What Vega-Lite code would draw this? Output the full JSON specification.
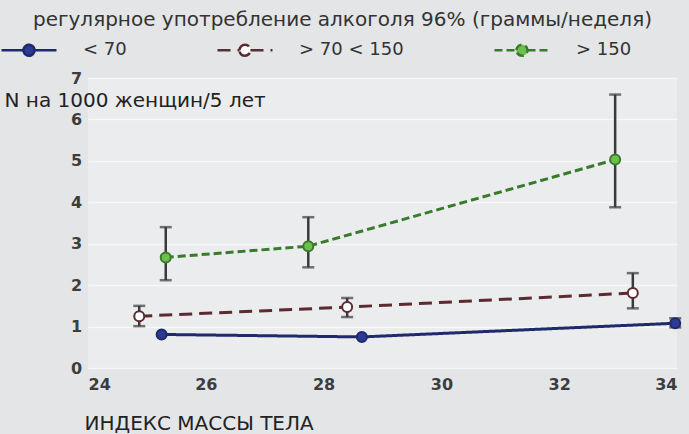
{
  "$schema": "https://vega.github.io/schema/vega-lite/v6.json",
  "autosize": "none",
  "width": 589,
  "height": 290,
  "padding": {"left": 88, "top": 78, "right": 12, "bottom": 66},
  "background": "#e3e5e7",
  "title": {
    "text": "регулярное употребление алкоголя 96% (граммы/неделя)",
    "anchor": "middle",
    "frame": "group",
    "dx": -40,
    "offset": -9,
    "font": "DejaVu Sans",
    "fontSize": 20,
    "fontWeight": "normal",
    "color": "#333333"
  },
  "data": {
    "values": [
      {"group": "< 70", "bmi": 25.25, "value": 0.81, "lo": null, "hi": null},
      {"group": "< 70", "bmi": 28.65, "value": 0.75, "lo": null, "hi": null},
      {"group": "< 70", "bmi": 33.97, "value": 1.08, "lo": 0.98, "hi": 1.2},
      {"group": "> 70 < 150", "bmi": 24.87, "value": 1.25, "lo": 1.01, "hi": 1.5},
      {"group": "> 70 < 150", "bmi": 28.4, "value": 1.47, "lo": 1.23, "hi": 1.69},
      {"group": "> 70 < 150", "bmi": 33.25, "value": 1.81, "lo": 1.44, "hi": 2.29},
      {"group": "> 150", "bmi": 25.32, "value": 2.67, "lo": 2.12, "hi": 3.4},
      {"group": "> 150", "bmi": 27.74, "value": 2.94, "lo": 2.43, "hi": 3.64},
      {"group": "> 150", "bmi": 32.95, "value": 5.03, "lo": 3.88, "hi": 6.6}
    ]
  },
  "config": {
    "view": {"fill": "#eaeced", "stroke": null},
    "axis": {
      "labelFont": "DejaVu Sans",
      "labelFontSize": 16,
      "labelFontWeight": "bold",
      "labelColor": "#3d3d3d",
      "titleFont": "DejaVu Sans",
      "titleFontSize": 20,
      "titleFontWeight": "normal",
      "titleColor": "#222222",
      "domain": false,
      "ticks": false
    },
    "legend": {
      "labelFont": "DejaVu Sans",
      "labelFontSize": 18,
      "labelColor": "#333333"
    }
  },
  "layer": [
    {
      "transform": [{"filter": "datum.lo != null"}],
      "mark": {"type": "errorbar", "ticks": {"size": 12}, "color": "#3a3a3a", "thickness": 2.5},
      "encoding": {
        "x": {"field": "bmi", "type": "quantitative", "title": "ИНДЕКС МАССЫ ТЕЛА"},
        "y": {"field": "lo", "type": "quantitative", "title": "N на 1000 женщин/5 лет"},
        "y2": {"field": "hi"}
      }
    },
    {
      "mark": {"type": "line", "strokeWidth": 3},
      "encoding": {
        "x": {
          "field": "bmi", "type": "quantitative",
          "title": "ИНДЕКС МАССЫ ТЕЛА",
          "scale": {"domain": [24, 34], "nice": false, "zero": false},
          "axis": {
            "values": [24, 26, 28, 30, 32, 34],
            "format": "d",
            "grid": false,
            "labelPadding": 8,
            "titleAnchor": "start",
            "titleAlign": "left",
            "titleX": -4,
            "titleY": 55,
            "titleBaseline": "middle"
          }
        },
        "y": {
          "field": "value", "type": "quantitative",
          "title": "N на 1000 женщин/5 лет",
          "scale": {"domain": [0, 7], "nice": false},
          "axis": {
            "values": [0, 1, 2, 3, 4, 5, 6, 7],
            "format": "d",
            "grid": true,
            "gridColor": "#f6f7f8",
            "gridWidth": 1.5,
            "labelPadding": 12,
            "labelAlign": "center",
            "titleAngle": 0,
            "titleAlign": "left",
            "titleBaseline": "middle",
            "titleX": -84,
            "titleY": 22
          }
        },
        "stroke": {
          "field": "group", "type": "nominal",
          "scale": {"domain": ["< 70", "> 70 < 150", "> 150"], "range": ["#1e2a6a", "#5c2a30", "#3a7a2c"]},
          "legend": {
            "title": null,
            "orient": "none",
            "direction": "horizontal",
            "legendX": -88,
            "legendY": -57,
            "symbolType": "M-1,0L-0.2,0M0.2,0L1,0M-0.2,0A0.2,0.2,0,1,1,0.2,0A0.2,0.2,0,1,1,-0.2,0Z",
            "symbolSize": 3025,
            "symbolStrokeWidth": 2.5,
            "labelOffset": 25,
            "columnPadding": 85
          }
        },
        "strokeDash": {
          "field": "group", "type": "nominal",
          "scale": {"domain": ["< 70", "> 70 < 150", "> 150"], "range": [[1, 0], [13, 7], [8, 4]]},
          "legend": null
        }
      }
    },
    {
      "mark": {"type": "point", "shape": "circle", "size": 100, "strokeWidth": 2, "opacity": 1},
      "encoding": {
        "x": {"field": "bmi", "type": "quantitative", "title": "ИНДЕКС МАССЫ ТЕЛА"},
        "y": {"field": "value", "type": "quantitative", "title": "N на 1000 женщин/5 лет"},
        "stroke": {"field": "group", "type": "nominal"},
        "fill": {
          "field": "group", "type": "nominal",
          "scale": {"domain": ["< 70", "> 70 < 150", "> 150"], "range": ["#2b3b94", "#ffffff", "#6cbf4c"]},
          "legend": null
        }
      }
    }
  ]
}
